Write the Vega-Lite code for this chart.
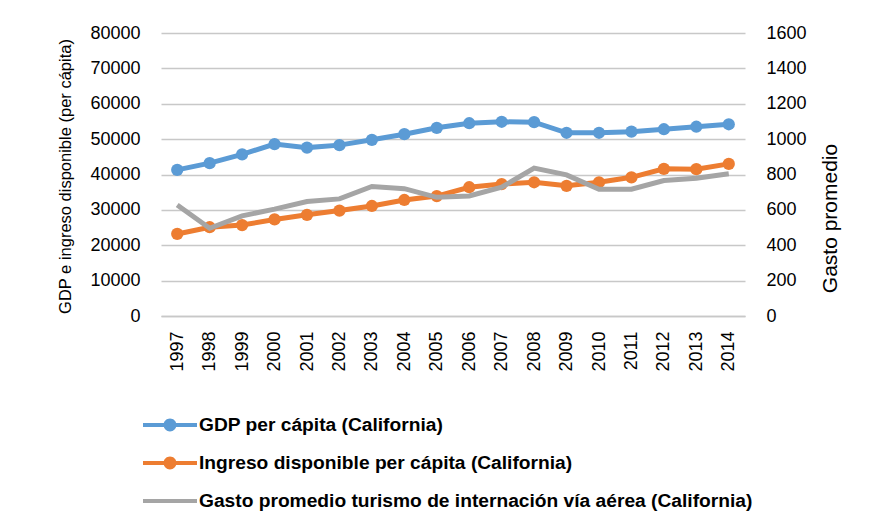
{
  "$schema": "https://vega.github.io/schema/vega-lite/v6.json",
  "width": 584,
  "height": 283,
  "autosize": {"type": "none"},
  "padding": {"left": 161, "top": 33, "right": 129, "bottom": 212},
  "background": "white",
  "config": {
    "view": {"stroke": null},
    "axis": {
      "labelFont": "Liberation Sans",
      "labelFontSize": 18,
      "labelColor": "#000000",
      "titleColor": "#000000",
      "titleFontWeight": "normal",
      "ticks": false,
      "tickSize": 0,
      "domain": false,
      "gridColor": "#c8c8c8",
      "gridWidth": 1.5
    }
  },
  "data": {
    "values": [
      {"year": "1997", "serie": "GDP per cápita (California)", "value": 41300},
      {"year": "1998", "serie": "GDP per cápita (California)", "value": 43200},
      {"year": "1999", "serie": "GDP per cápita (California)", "value": 45700},
      {"year": "2000", "serie": "GDP per cápita (California)", "value": 48600},
      {"year": "2001", "serie": "GDP per cápita (California)", "value": 47600},
      {"year": "2002", "serie": "GDP per cápita (California)", "value": 48300},
      {"year": "2003", "serie": "GDP per cápita (California)", "value": 49800},
      {"year": "2004", "serie": "GDP per cápita (California)", "value": 51400},
      {"year": "2005", "serie": "GDP per cápita (California)", "value": 53200},
      {"year": "2006", "serie": "GDP per cápita (California)", "value": 54500},
      {"year": "2007", "serie": "GDP per cápita (California)", "value": 54900},
      {"year": "2008", "serie": "GDP per cápita (California)", "value": 54800},
      {"year": "2009", "serie": "GDP per cápita (California)", "value": 51800},
      {"year": "2010", "serie": "GDP per cápita (California)", "value": 51800},
      {"year": "2011", "serie": "GDP per cápita (California)", "value": 52100},
      {"year": "2012", "serie": "GDP per cápita (California)", "value": 52800},
      {"year": "2013", "serie": "GDP per cápita (California)", "value": 53500},
      {"year": "2014", "serie": "GDP per cápita (California)", "value": 54200},
      {"year": "1997", "serie": "Ingreso disponible per cápita (California)", "value": 23200},
      {"year": "1998", "serie": "Ingreso disponible per cápita (California)", "value": 25100},
      {"year": "1999", "serie": "Ingreso disponible per cápita (California)", "value": 25700},
      {"year": "2000", "serie": "Ingreso disponible per cápita (California)", "value": 27300},
      {"year": "2001", "serie": "Ingreso disponible per cápita (California)", "value": 28600},
      {"year": "2002", "serie": "Ingreso disponible per cápita (California)", "value": 29800},
      {"year": "2003", "serie": "Ingreso disponible per cápita (California)", "value": 31100},
      {"year": "2004", "serie": "Ingreso disponible per cápita (California)", "value": 32800},
      {"year": "2005", "serie": "Ingreso disponible per cápita (California)", "value": 33900},
      {"year": "2006", "serie": "Ingreso disponible per cápita (California)", "value": 36400},
      {"year": "2007", "serie": "Ingreso disponible per cápita (California)", "value": 37300},
      {"year": "2008", "serie": "Ingreso disponible per cápita (California)", "value": 37800},
      {"year": "2009", "serie": "Ingreso disponible per cápita (California)", "value": 36800},
      {"year": "2010", "serie": "Ingreso disponible per cápita (California)", "value": 37800},
      {"year": "2011", "serie": "Ingreso disponible per cápita (California)", "value": 39200},
      {"year": "2012", "serie": "Ingreso disponible per cápita (California)", "value": 41600},
      {"year": "2013", "serie": "Ingreso disponible per cápita (California)", "value": 41500},
      {"year": "2014", "serie": "Ingreso disponible per cápita (California)", "value": 43000},
      {"year": "1997", "serie": "Gasto promedio turismo de internación vía aérea (California)", "value": 628},
      {"year": "1998", "serie": "Gasto promedio turismo de internación vía aérea (California)", "value": 496},
      {"year": "1999", "serie": "Gasto promedio turismo de internación vía aérea (California)", "value": 566},
      {"year": "2000", "serie": "Gasto promedio turismo de internación vía aérea (California)", "value": 604},
      {"year": "2001", "serie": "Gasto promedio turismo de internación vía aérea (California)", "value": 647},
      {"year": "2002", "serie": "Gasto promedio turismo de internación vía aérea (California)", "value": 662},
      {"year": "2003", "serie": "Gasto promedio turismo de internación vía aérea (California)", "value": 732},
      {"year": "2004", "serie": "Gasto promedio turismo de internación vía aérea (California)", "value": 720},
      {"year": "2005", "serie": "Gasto promedio turismo de internación vía aérea (California)", "value": 671},
      {"year": "2006", "serie": "Gasto promedio turismo de internación vía aérea (California)", "value": 679},
      {"year": "2007", "serie": "Gasto promedio turismo de internación vía aérea (California)", "value": 728},
      {"year": "2008", "serie": "Gasto promedio turismo de internación vía aérea (California)", "value": 836},
      {"year": "2009", "serie": "Gasto promedio turismo de internación vía aérea (California)", "value": 798},
      {"year": "2010", "serie": "Gasto promedio turismo de internación vía aérea (California)", "value": 717},
      {"year": "2011", "serie": "Gasto promedio turismo de internación vía aérea (California)", "value": 717},
      {"year": "2012", "serie": "Gasto promedio turismo de internación vía aérea (California)", "value": 766},
      {"year": "2013", "serie": "Gasto promedio turismo de internación vía aérea (California)", "value": 779},
      {"year": "2014", "serie": "Gasto promedio turismo de internación vía aérea (California)", "value": 804}
    ]
  },
  "encoding": {
    "x": {
      "field": "year",
      "type": "ordinal",
      "scale": {"type": "point", "padding": 0.5},
      "axis": {
        "title": null,
        "labelAngle": -90,
        "labelPadding": 15,
        "domain": true,
        "domainColor": "#c8c8c8",
        "domainWidth": 1.5,
        "grid": false
      }
    },
    "color": {
      "field": "serie",
      "type": "nominal",
      "scale": {
        "domain": ["GDP per cápita (California)", "Ingreso disponible per cápita (California)", "Gasto promedio turismo de internación vía aérea (California)"],
        "range": ["#5b9bd5", "#ed7d31", "#a5a5a5"]
      },
      "legend": {
        "orient": "none",
        "legendX": -18,
        "legendY": 365,
        "title": null,
        "padding": 0,
        "labelFont": "Liberation Sans",
        "labelFontSize": 19.2,
        "labelFontWeight": "bold",
        "labelColor": "#000000",
        "labelLimit": 0,
        "labelOffset": 2,
        "rowPadding": 0,
        "symbolSize": 2916,
        "symbolStrokeWidth": 0,
        "encode": {
          "symbols": {
            "update": {
              "shape": {"signal": "indexof(datum.value, 'Gasto') === 0 ? 'M-1,-0.075L1,-0.075L1,0.075L-1,0.075Z' : 'M-1,-0.075L1,-0.075L1,0.075L-1,0.075Z M0.24,0A0.24,0.24 0 1,1 -0.24,0A0.24,0.24 0 1,1 0.24,0Z'"},
              "fill": {"scale": "color", "field": "value"},
              "stroke": {"value": "transparent"},
              "strokeWidth": {"value": 0},
              "opacity": {"value": 1}
            }
          }
        }
      }
    }
  },
  "layer": [
    {
      "transform": [{"filter": "indexof(datum.serie, 'Gasto') !== 0"}],
      "encoding": {
        "y": {
          "field": "value",
          "type": "quantitative",
          "scale": {"domain": [0, 80000], "nice": false},
          "axis": {
            "orient": "left",
            "values": [0, 10000, 20000, 30000, 40000, 50000, 60000, 70000, 80000],
            "format": "d",
            "labelPadding": 21,
            "grid": true,
            "title": "GDP e ingreso disponible (per cápita)",
            "titleFont": "Liberation Sans",
            "titleFontSize": 16.5,
            "titleAngle": 270,
            "titleX": -96,
            "titleY": 143,
            "titleAlign": "center",
            "titleBaseline": "middle"
          }
        }
      },
      "layer": [
        {"mark": {"type": "line", "strokeWidth": 5}},
        {"mark": {"type": "point", "filled": true, "opacity": 1, "size": 150}}
      ]
    },
    {
      "transform": [{"filter": "indexof(datum.serie, 'Gasto') === 0"}],
      "mark": {"type": "line", "strokeWidth": 5},
      "encoding": {
        "y": {
          "field": "value",
          "type": "quantitative",
          "scale": {"domain": [0, 1600], "nice": false},
          "axis": {
            "orient": "right",
            "values": [0, 200, 400, 600, 800, 1000, 1200, 1400, 1600],
            "format": "d",
            "labelPadding": 21,
            "grid": false,
            "title": "Gasto promedio",
            "titleFont": "Liberation Sans",
            "titleFontSize": 21,
            "titleAngle": 270,
            "titleX": 85,
            "titleY": 185,
            "titleAlign": "center",
            "titleBaseline": "middle"
          }
        }
      }
    }
  ],
  "resolve": {"scale": {"y": "independent"}}
}
